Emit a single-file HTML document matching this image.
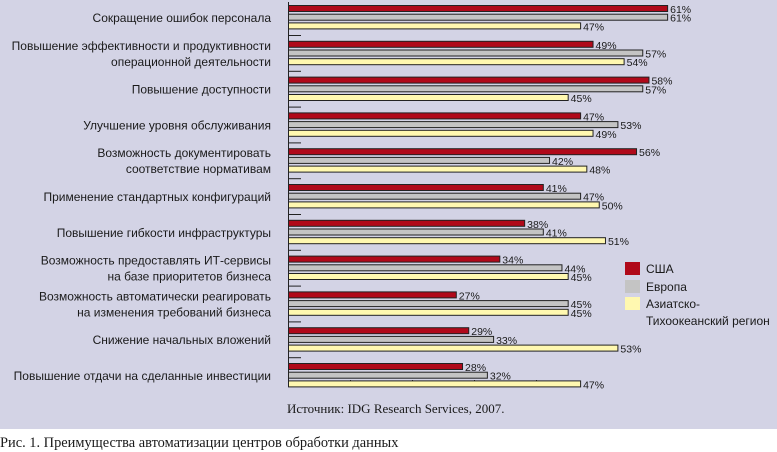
<!DOCTYPE html>
<html><head><meta charset="utf-8"><style>
html,body{margin:0;padding:0;background:#fff;width:777px;height:452px;overflow:hidden}
svg{display:block}
.l{font-family:"Liberation Sans","DejaVu Sans",sans-serif;font-size:12px;fill:#1a1a1a}
.v{font-family:"Liberation Sans","DejaVu Sans",sans-serif;font-size:10.5px;fill:#1a1a1a}
.s{font-family:"Liberation Serif","DejaVu Serif",serif;font-size:13px;fill:#1a1a1a}
.c{font-family:"Liberation Serif","DejaVu Serif",serif;font-size:14.4px;fill:#1a1a1a}
</style></head><body>
<svg width="777" height="452" xmlns="http://www.w3.org/2000/svg" id="c">
<rect x="0" y="0" width="777" height="429" fill="#d3d3e5"/>
<line x1="288.5" y1="2" x2="288.5" y2="387" stroke="#222" stroke-width="1"/>
<line x1="288.5" y1="386.5" x2="537" y2="386.5" stroke="#222" stroke-width="1"/>
<g stroke="#222"><line x1="350.5" y1="380" x2="350.5" y2="387"/><line x1="412.5" y1="380" x2="412.5" y2="387"/><line x1="474.5" y1="380" x2="474.5" y2="387"/><line x1="536.5" y1="380" x2="536.5" y2="387"/></g>
<g id="g"></g>
<rect x="625" y="262" width="15" height="13" fill="#b0091a"/>
<rect x="625" y="280" width="15" height="13" fill="#c4c4c4"/>
<rect x="625" y="297" width="15" height="13" fill="#fff8b0"/>
<text class="l" x="646" y="273">США</text>
<text class="l" x="646" y="291">Европа</text>
<text class="l" x="646" y="308">Азиатско-</text>
<text class="l" x="646" y="325">Тихоокеанский регион</text>
<text class="s" x="287" y="413">Источник: IDG Research Services, 2007.</text>
<text class="c" x="0" y="447">Рис. 1. Преимущества автоматизации центров обработки данных</text>
</svg>
<script>
var d=[[["Сокращение ошибок персонала"],61,61,47],
[["Повышение эффективности и продуктивности","операционной деятельности"],49,57,54],
[["Повышение доступности"],58,57,45],
[["Улучшение уровня обслуживания"],47,53,49],
[["Возможность документировать","соответствие нормативам"],56,42,48],
[["Применение стандартных конфигураций"],41,47,50],
[["Повышение гибкости инфраструктуры"],38,41,51],
[["Возможность предоставлять ИТ-сервисы","на базе приоритетов бизнеса"],34,44,45],
[["Возможность автоматически реагировать","на изменения требований бизнеса"],27,45,45],
[["Снижение начальных вложений"],29,33,53],
[["Повышение отдачи на сделанные инвестиции"],28,32,47]];
var col=["#b0091a","#c4c4c4","#fff8b0"],s="";
d.forEach(function(r,i){var y0=5+i*35.8;
for(var k=0;k<3;k++){var y=y0+k*8.7,w=r[k+1]*6.215;
s+='<rect x="288.5" y="'+(y+0.5)+'" width="'+w+'" height="6" fill="'+col[k]+'" stroke="#222" stroke-width="1"/>';
s+='<text class="v" x="'+(289+w+2)+'" y="'+(y+8)+'">'+r[k+1]+'%</text>';}
if(i<10)s+='<line x1="289" y1="'+(y0+30.5)+'" x2="301" y2="'+(y0+30.5)+'" stroke="#222"/>';
var L=r[0];if(L.length==1)s+='<text class="l" x="271" y="'+(y0+17)+'" text-anchor="end">'+L[0]+'</text>';
else{s+='<text class="l" x="271" y="'+(y0+9)+'" text-anchor="end">'+L[0]+'</text><text class="l" x="271" y="'+(y0+25)+'" text-anchor="end">'+L[1]+'</text>';}
});
document.getElementById("g").innerHTML=s;
</script>
</body></html>
